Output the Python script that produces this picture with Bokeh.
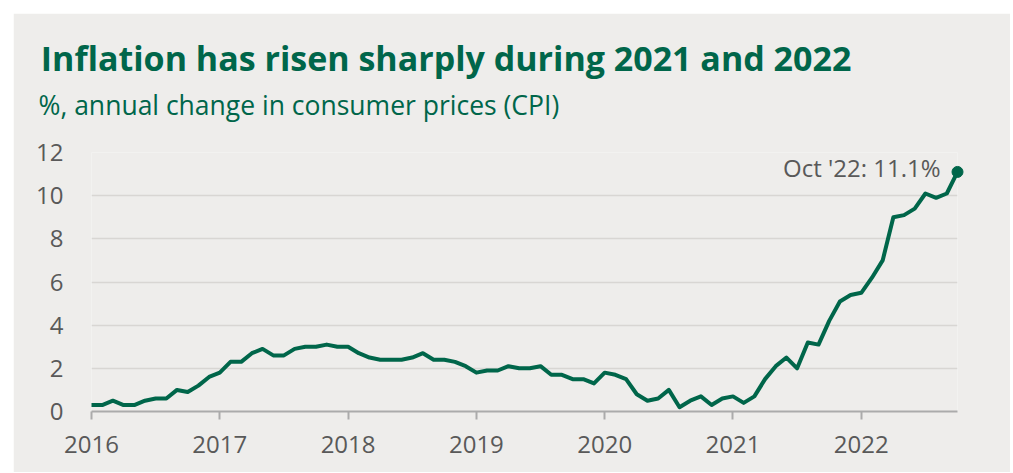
from bokeh.plotting import figure
from bokeh.models import Label, FixedTicker, Range1d, ColumnDataSource, CustomJSTickFormatter
from bokeh.core.properties import value
from bokeh.embed import file_html
from bokeh.resources import INLINE

# UK CPI, annual % change, monthly Jan 2016 - Oct 2022
cpi = [0.3, 0.3, 0.5, 0.3, 0.3, 0.5, 0.6, 0.6, 1.0, 0.9, 1.2, 1.6,
       1.8, 2.3, 2.3, 2.7, 2.9, 2.6, 2.6, 2.9, 3.0, 3.0, 3.1, 3.0,
       3.0, 2.7, 2.5, 2.4, 2.4, 2.4, 2.5, 2.7, 2.4, 2.4, 2.3, 2.1,
       1.8, 1.9, 1.9, 2.1, 2.0, 2.0, 2.1, 1.7, 1.7, 1.5, 1.5, 1.3,
       1.8, 1.7, 1.5, 0.8, 0.5, 0.6, 1.0, 0.2, 0.5, 0.7, 0.3, 0.6,
       0.7, 0.4, 0.7, 1.5, 2.1, 2.5, 2.0, 3.2, 3.1, 4.2, 5.1, 5.4,
       5.5, 6.2, 7.0, 9.0, 9.1, 9.4, 10.1, 9.9, 10.1, 11.1]
start_year = 2016
year_ticks = [2016, 2017, 2018, 2019, 2020, 2021, 2022]
y_ticks = [0, 2, 4, 6, 8, 10, 12]
title_text = "Inflation has risen sharply during 2021 and 2022"
subtitle_text = "%, annual change in consumer prices (CPI)"
last_label = "Oct '22: 11.1%"

x = [start_year + i / 12 for i in range(len(cpi))]
src = ColumnDataSource(dict(x=x, y=cpi))

BG = "#EEEDEB"
GREEN = "#00664A"
GREY_TXT = "#595959"

p = figure(width=997, height=459, margin=(13, 0, 0, 13),
           output_backend="svg", toolbar_location=None,
           x_range=Range1d(x[0], x[-1]), y_range=Range1d(0, 12),
           min_border_left=78, min_border_right=53,
           min_border_top=139, min_border_bottom=61,
           background_fill_color=BG, border_fill_color=BG,
           outline_line_color=None)

p.xgrid.visible = False
p.ygrid.grid_line_color = "#D8D6D3"
p.ygrid.grid_line_width = 1.6

p.yaxis.ticker = FixedTicker(ticks=y_ticks)
p.yaxis.axis_line_color = None
p.yaxis.major_tick_line_color = None
p.yaxis.minor_tick_line_color = None
p.yaxis.major_tick_out = 0
p.yaxis.major_tick_in = 0
p.yaxis.major_label_standoff = 28
p.yaxis.major_label_text_font = "Open Sans"
p.yaxis.major_label_text_font_size = "24px"
p.yaxis.major_label_text_color = GREY_TXT

p.xaxis.ticker = FixedTicker(ticks=year_ticks)
p.xaxis.formatter = CustomJSTickFormatter(code="return String(Math.round(tick));")
p.xaxis.axis_line_color = "#ABABAB"
p.xaxis.axis_line_width = 2
p.xaxis.major_tick_line_color = "#ABABAB"
p.xaxis.major_tick_line_width = 2
p.xaxis.major_tick_out = 8
p.xaxis.major_tick_in = 0
p.xaxis.minor_tick_line_color = None
p.xaxis.major_label_standoff = 16
p.xaxis.major_label_text_font = "Open Sans"
p.xaxis.major_label_text_font_size = "24px"
p.xaxis.major_label_text_color = GREY_TXT

p.line("x", "y", source=src, line_color=GREEN, line_width=4,
       line_join="round", level="overlay")
p.scatter([x[-1]], [cpi[-1]], size=11, color=GREEN, level="overlay")

p.add_layout(Label(x=x[-1], y=cpi[-1], text=last_label, x_offset=-17, y_offset=4,
                   text_align="right", text_baseline="middle",
                   text_font="Open Sans", text_font_size="24px",
                   text_color=GREY_TXT))

# title and subtitle anchored at the frame's top-left corner, offset in pixels
p.text(x=[x[0]], y=[y_ticks[-1]], text=[title_text], x_offset=-50.7, y_offset=-95,
       text_font=value("Open Sans"), text_font_style="bold", text_font_size="34px",
       text_color=GREEN, text_baseline="middle", text_align="left",
       level="overlay")
p.text(x=[x[0]], y=[y_ticks[-1]], text=[subtitle_text], x_offset=-53, y_offset=-48,
       text_font=value("Open Sans"), text_font_size="26.5px",
       text_color=GREEN, text_baseline="middle", text_align="left",
       level="overlay")

open("out.html", "w").write(file_html(p, INLINE))
